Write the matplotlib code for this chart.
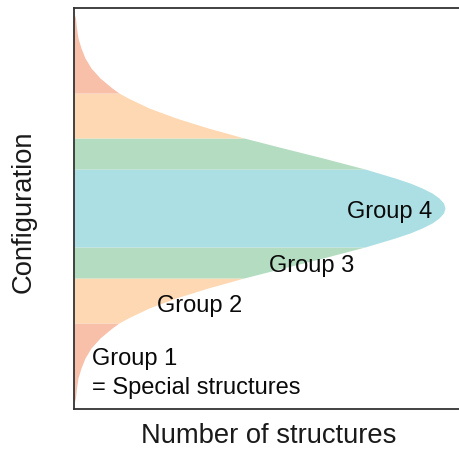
import matplotlib
matplotlib.use("Agg")
import matplotlib.pyplot as plt
import numpy as np

# Curve: configuration level (y) -> number of structures (x)
config_levels = [6, 11, 21, 31, 41, 51, 61, 71, 81, 86, 91, 101, 111, 121, 131, 141, 151,
                 161, 162, 171, 176, 181, 186, 191, 196, 201, 206, 211, 216, 221, 226, 231,
                 240, 241, 251, 261, 271, 281, 291, 301, 311, 316, 321, 331, 341, 351, 361,
                 371, 381, 391, 396]
num_structures = [0, 1.5, 2.5, 4, 7, 11, 17, 26, 38, 45, 54, 75, 102, 134, 170, 209, 249,
                  287, 291, 321, 336, 348, 358, 365, 369.5, 371, 369.5, 365, 358, 348, 336, 321,
                  291, 287, 249, 209, 170, 134, 102, 75, 54, 45, 38, 26, 17, 11, 7,
                  4, 2.5, 1.5, 0]

# Band boundaries (configuration levels) and band groups
band_edges = [6, 86, 131, 162, 240, 271, 316, 396]
band_groups = [1, 2, 3, 4, 3, 2, 1]
group_colors = {1: "#F8BFA9", 2: "#FDD8B2", 3: "#B4DCC1", 4: "#ACDFE4"}

# Labels
group_labels = ["Group 4", "Group 3", "Group 2", "Group 1\n= Special structures"]
label_x = [273, 195, 83, 18]
label_y = [191, 137, 97, 44]

W, H = 459, 451
fig = plt.figure(figsize=(W / 100, H / 100), dpi=100)
ax = fig.add_axes([74 / W, (H - 409) / H, 390 / W, (409 - 8) / H])

y = np.array(config_levels, dtype=float)
x = np.array(num_structures, dtype=float)
for i, g in enumerate(band_groups):
    lo, hi = band_edges[i], band_edges[i + 1]
    m = (y >= lo) & (y <= hi)
    ax.fill_betweenx(y[m], 0, x[m], color=group_colors[g], linewidth=0)

font = "Liberation Sans"
fs = 17
for t, tx, ty in zip(group_labels, label_x, label_y):
    if "\n" in t:
        first, second = t.split("\n")
        ax.text(tx, ty, first, fontsize=fs, family=font, ha="left", va="baseline", color="#0a0a0a")
        ax.text(tx, ty - 29, second, fontsize=fs, family=font, ha="left", va="baseline", color="#0a0a0a")
    else:
        ax.text(tx, ty, t, fontsize=fs, family=font, ha="left", va="baseline", color="#0a0a0a")

ax.set_xlim(0, 390)
ax.set_ylim(0, 401)
ax.set_xticks([])
ax.set_yticks([])
for s in ["left", "top", "bottom", "right"]:
    ax.spines[s].set_color("#333333")
    ax.spines[s].set_linewidth(1.3)

fig.text(269 / W, 1 - 443 / H, "Number of structures", fontsize=19.7, family=font,
         ha="center", va="baseline", color="#1a1a1a")
fig.text(24 / W, 1 - 212 / H, "Configuration", fontsize=19.7, family=font,
         ha="center", va="center", rotation=90, color="#1a1a1a")

fig.savefig("out.png", dpi=100)
